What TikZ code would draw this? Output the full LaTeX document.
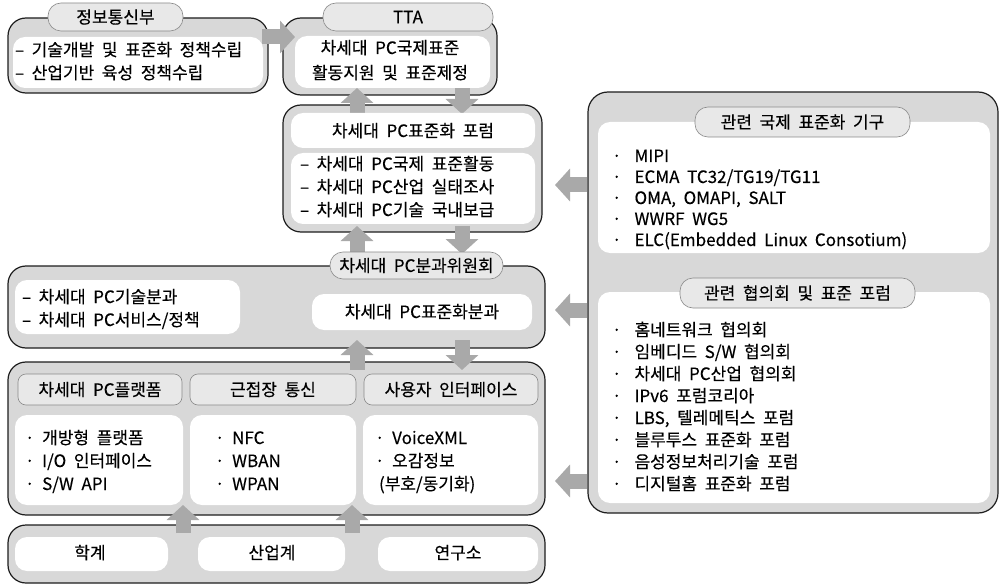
\documentclass[tikz,border=0pt]{standalone}
\usepackage{fontspec}
\setmainfont[WordSpace=2, FakeBold=0.3]{Noto Sans CJK KR}
\usetikzlibrary{arrows.meta,calc}
\definecolor{boxgray}{HTML}{D8D8D8}
\definecolor{tabgray}{HTML}{E8E8E8}
\definecolor{arrgray}{HTML}{A9A9A9}
\definecolor{edgecol}{HTML}{1E1E1E}
\definecolor{tabedge}{HTML}{8A8A8A}
\newcommand\rbox[7]{%
  \pgfmathsetmacro\rbX{(#3+#5)/2}%
  \pgfmathsetmacro\rbY{(#4+#6)/2}%
  \pgfmathsetmacro\rbW{#5-#3}%
  \pgfmathsetmacro\rbH{#6-#4}%
  \node[#1, minimum width=\rbW pt, minimum height=\rbH pt] (#2) at (\rbX,\rbY) {#7};}
\begin{document}
\begin{tikzpicture}[x=1pt,y=-1pt,
  every node/.style={inner sep=0pt, outer sep=0pt},
  outer/.style={draw=edgecol, line width=1.2pt, fill=boxgray, rounded corners=18pt},
  panel/.style={draw=edgecol, line width=1.2pt, fill=boxgray, rounded corners=20pt},
  whitebox/.style={fill=white, rounded corners=12pt},
  tab/.style={draw=tabedge, line width=0.6pt, fill=tabgray, rounded corners=13pt, font=\fontsize{17}{17}\selectfont},
  hdr/.style={draw=tabedge, line width=0.6pt, fill=tabgray, rounded corners=8pt, font=\fontsize{17}{17}\selectfont},
  ln/.style={anchor=base west, font=\fontsize{17}{17}\selectfont},
  ct/.style={anchor=base, font=\fontsize{17}{17}\selectfont},
  blk/.style={draw=arrgray, line width=15pt, -{Triangle[width=32pt,length=15pt]}}]
\fill[white] (0,0) rectangle (1001,588);
\useasboundingbox (0,0) rectangle (1001,588);
% outer boxes
\rbox{outer}{mic}{8}{18}{268}{93}{}
\rbox{outer}{tta}{283}{18}{497}{95}{}
\rbox{outer}{forum}{283}{105}{542}{232}{}
\rbox{outer}{bunkwa}{8}{266}{545}{348}{}
\rbox{outer}{layer}{8}{362}{545}{515}{}
\rbox{outer}{bot}{8}{525}{545}{583}{}
\rbox{panel}{rp}{588}{92}{998}{513}{}
% arrows
\draw[blk] ($(mic.east |- 0,37)+(-6,0)$) -- ($(tta.west |- 0,37)+(12,0)$);
\draw[blk] ($(forum.north -| 357,0)+(0,9)$) -- ($(tta.south -| 357,0)+(0,-7)$);
\draw[blk] ($(tta.south -| 462,0)+(0,-7)$) -- ($(forum.north -| 462,0)+(0,9)$);
\draw[blk] ($(bunkwa.north -| 357,0)+(0,-12)$) -- ($(forum.south -| 357,0)+(0,-6)$);
\draw[blk] ($(forum.south -| 462,0)+(0,-6)$) -- ($(bunkwa.north -| 462,0)+(0,-12)$);
\draw[blk] ($(layer.north -| 357,0)+(0,8)$) -- ($(bunkwa.south -| 357,0)+(0,-8)$);
\draw[blk] ($(bunkwa.south -| 462,0)+(0,-8)$) -- ($(layer.north -| 462,0)+(0,8)$);
\draw[blk] ($(bot.north -| 183,0)+(0,8)$) -- ($(layer.south -| 183,0)+(0,-10)$);
\draw[blk] ($(bot.north -| 352,0)+(0,8)$) -- ($(layer.south -| 352,0)+(0,-10)$);
\draw[blk] ($(rp.west |- 0,185)+(-1,0)$) -- ($(forum.east |- 0,185)+(13,0)$);
\draw[blk] ($(rp.west |- 0,310)+(-1,0)$) -- ($(bunkwa.east |- 0,310)+(10,0)$);
\draw[blk] ($(rp.west |- 0,481)+(-1,0)$) -- ($(layer.east |- 0,481)+(10,0)$);
% white boxes
\rbox{whitebox}{micw}{13}{37}{263}{88}{}
\rbox{whitebox}{ttaw}{295}{36}{490}{88}{}
\rbox{whitebox}{forumt}{291}{113}{535}{148}{}
\rbox{whitebox}{foruml}{291}{153}{535}{224}{}
\rbox{whitebox}{bkl}{15}{280}{240}{334}{}
\rbox{whitebox}{bkr}{312}{294}{532}{330}{}
\rbox{whitebox}{lw1}{15}{415}{183}{505}{}
\rbox{whitebox}{lw2}{190}{415}{356}{505}{}
\rbox{whitebox}{lw3}{363}{415}{538}{505}{}
\rbox{whitebox}{bw1}{15}{537}{168}{571}{}
\rbox{whitebox}{bw2}{198}{537}{345}{571}{}
\rbox{whitebox}{bw3}{378}{537}{538}{571}{}
\rbox{whitebox}{rpw1}{598}{122}{990}{253}{}
\rbox{whitebox}{rpw2}{598}{292}{990}{503}{}
% tabs
\rbox{tab}{mict}{48}{3}{183}{31}{정보통신부}
\rbox{tab}{ttat}{323}{3}{493}{31}{TTA}
\rbox{tab}{bkt}{330}{252}{503}{279}{차세대 PC분과위원회}
\rbox{tab}{rpt1}{695}{107}{910}{137}{관련 국제 표준화 기구}
\rbox{tab}{rpt2}{680}{278}{915}{308}{관련 협의회 및 표준 포럼}
\rbox{hdr}{h1}{18}{374}{182}{405}{차세대 PC플랫폼}
\rbox{hdr}{h2}{190}{374}{356}{405}{근접장 통신}
\rbox{hdr}{h3}{364}{374}{538}{405}{사용자 인터페이스}
% texts
\node[ln] (m1) at (15,56) {– 기술개발 및 표준화 정책수립};
\node[ln] (m2) at (15,79) {– 산업기반 육성 정책수립};
\node[ct] (t1) at (390,54) {차세대 PC국제표준};
\node[ct] (t2) at (390,79) {활동지원 및 표준제정};
\node[ct] (f0) at (413,137) {차세대 PC표준화 포럼};
\node[ln] (f1) at (300,170) {– 차세대 PC국제 표준활동};
\node[ln] (f2) at (300,193) {– 차세대 PC산업 실태조사};
\node[ln] (f3) at (300,216) {– 차세대 PC기술 국내보급};
\node[ln] (b1) at (22,303) {– 차세대 PC기술분과};
\node[ln] (b2) at (22,326) {– 차세대 PC서비스/정책};
\node[ct] (b3) at (422,318) {차세대 PC표준화분과};
\node[ln] (c11) at (25,444) {· 개방형 플랫폼};
\node[ln] (c12) at (25,467) {· I/O 인터페이스};
\node[ln] (c13) at (25,490) {· S/W API};
\node[ln] (c21) at (215,444) {· NFC};
\node[ln] (c22) at (215,467) {· WBAN};
\node[ln] (c23) at (215,490) {· WPAN};
\node[ln] (c31) at (375,444) {· VoiceXML};
\node[ln] (c32) at (375,467) {· 오감정보};
\node[ln] (c33) at (379,490) {(부호/동기화)};
\node[ct] (d1) at (90,559) {학계};
\node[ct] (d2) at (272,559) {산업계};
\node[ct] (d3) at (458,559) {연구소};
\node[ln] (r11) at (612,162) {·\hspace{13pt}MIPI};
\node[ln] (r12) at (612,183) {·\hspace{13pt}ECMA TC32/TG19/TG11};
\node[ln] (r13) at (612,204) {·\hspace{13pt}OMA, OMAPI, SALT};
\node[ln] (r14) at (612,225) {·\hspace{13pt}WWRF WG5};
\node[ln] (r15) at (612,246) {·\hspace{13pt}ELC(Embedded Linux Consotium)};
\node[ln] (r21) at (612,336) {·\hspace{13pt}홈네트워크 협의회};
\node[ln] (r22) at (612,358) {·\hspace{13pt}임베디드 S/W 협의회};
\node[ln] (r23) at (612,380) {·\hspace{13pt}차세대 PC산업 협의회};
\node[ln] (r24) at (612,402) {·\hspace{13pt}IPv6 포럼코리아};
\node[ln] (r25) at (612,424) {·\hspace{13pt}LBS, 텔레메틱스 포럼};
\node[ln] (r26) at (612,446) {·\hspace{13pt}블루투스 표준화 포럼};
\node[ln] (r27) at (612,468) {·\hspace{13pt}음성정보처리기술 포럼};
\node[ln] (r28) at (612,490) {·\hspace{13pt}디지털홈 표준화 포럼};
\end{tikzpicture}
\end{document}
